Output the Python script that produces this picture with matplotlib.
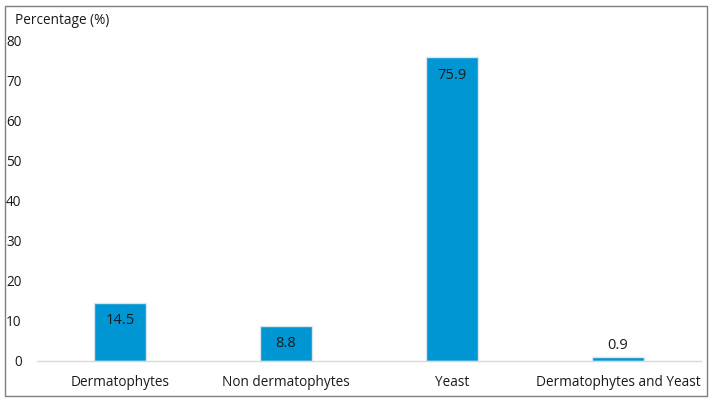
import matplotlib
matplotlib.use("Agg")
import matplotlib.pyplot as plt
from matplotlib.patches import Rectangle

# Data
categories = ["Dermatophytes", "Non dermatophytes", "Yeast", "Dermatophytes and Yeast"]
percentages = [14.5, 8.8, 75.9, 0.9]
y_ticks = [0, 10, 20, 30, 40, 50, 60, 70, 80]

plt.rcParams["font.family"] = ["Open Sans", "DejaVu Sans"]

fig = plt.figure(figsize=(7.12, 4.0), dpi=100)
ax = fig.add_axes([0.052, 0.0975, 0.9325, 0.80])

x = range(len(categories))
bars = ax.bar(x, percentages, width=0.31, color="#0096D4",
              edgecolor="#D8E6EE", linewidth=1.0)

for xi, val in zip(x, percentages):
    if val > 5:
        ax.text(xi, val - 2.6, f"{val}", ha="center", va="top",
                fontsize=10.5, color="#1a1a1a")
    else:
        ax.text(xi, val + 1.0, f"{val}", ha="center", va="bottom",
                fontsize=10.5, color="#1a1a1a")

ax.set_xlim(-0.5, len(categories) - 0.5)
ax.set_ylim(0, 80)
ax.set_yticks(y_ticks)
ax.set_xticks(list(x))
ax.set_xticklabels(categories, fontsize=9.8, color="#1a1a1a")
ax.tick_params(axis="y", length=0, labelsize=9.8, labelcolor="#1a1a1a", pad=11)
ax.tick_params(axis="x", length=0, pad=10)

for side in ["left", "right", "top"]:
    ax.spines[side].set_visible(False)
ax.spines["bottom"].set_color("#D9D9D9")
ax.spines["bottom"].set_linewidth(1.0)

fig.text(0.021, 0.93, "Percentage (%)", fontsize=9.8, color="#1a1a1a",
         ha="left", va="bottom")

# outer frame
fig.patches.append(Rectangle((0.007, 0.01), 0.986, 0.975, transform=fig.transFigure,
                             fill=False, edgecolor="#7f7f7f", linewidth=1.0))

fig.savefig("out.png", dpi=100)
